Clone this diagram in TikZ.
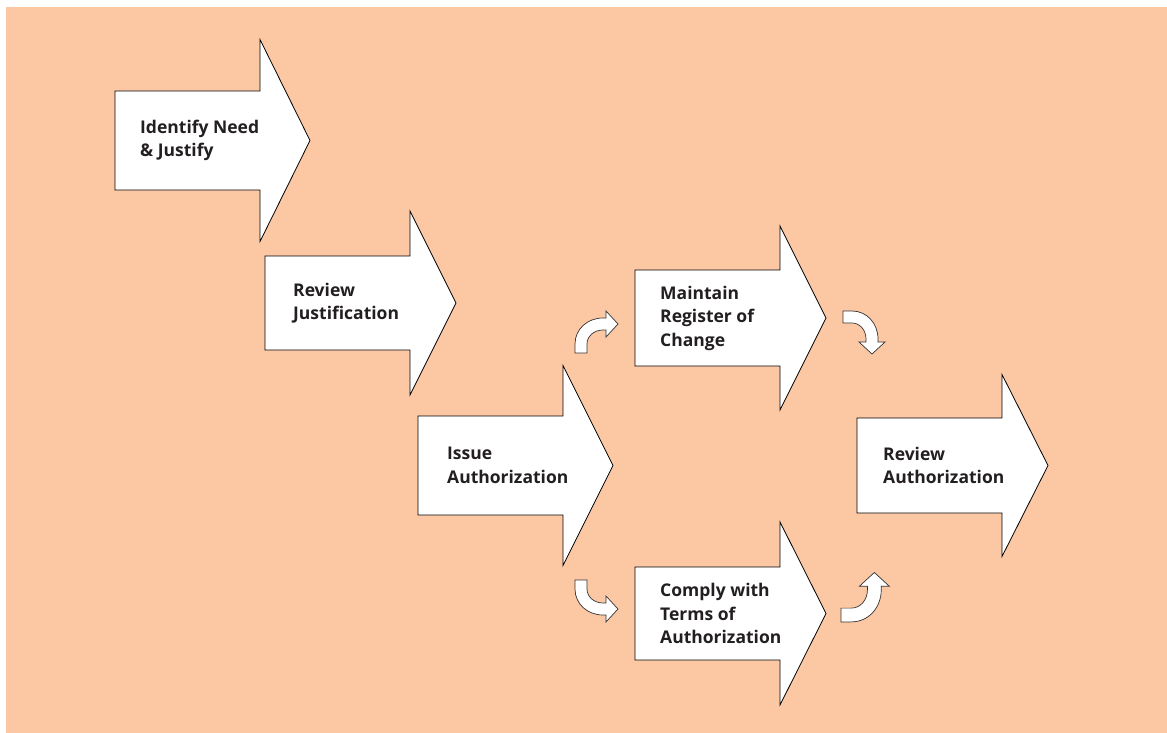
\documentclass[tikz,border=0pt]{standalone}
\usepackage{fontspec}
\setmainfont{Open Sans}
\definecolor{peach}{RGB}{252,199,163}
\definecolor{inkgray}{RGB}{35,31,32}
\tikzset{
  arrowbox/.style={draw=black, line width=0.8pt, fill=white, line join=miter},
  steptext/.style={anchor=west, align=left, inner sep=0pt, text=inkgray,
    font=\bfseries\fontsize{17.5}{23.5}\selectfont},
  turnarrow/.style={draw=black!80, line width=0.7pt, fill=white, line join=miter},
  uturn/.pic={
    \draw[turnarrow] (-6,0) -- (-6,-9)
      .. controls (-6,-24) and (6.5,-35) .. (22,-35)
      -- (25,-35) -- (25,-42) -- (37,-29) -- (25,-16) -- (25,-23) -- (22,-23)
      .. controls (13.2,-23) and (6,-17) .. (6,-9)
      -- (6,0) -- cycle;
  }
}
% #1 name, #2 left x, #3 centre y, #4 half body height, #5 half head height,
% #6 head length, #7 text indent, #8 label
\newcommand\procarrow[8]{%
  \draw[arrowbox] (#2,#3-#4) -- (#2+145,#3-#4) -- (#2+145,#3-#5)
    -- (#2+145+#6,#3) -- (#2+145,#3+#5) -- (#2+145,#3+#4)
    -- (#2,#3+#4) -- cycle;
  \node[steptext] (#1) at (#2+#7,#3) {#8};
}
\begin{document}
\begin{tikzpicture}[x=1pt,y=-1pt]
  \useasboundingbox (0,0) rectangle (1167,733);
  \fill[peach] (6,7) rectangle (1167,733);

  \procarrow{need}{115}{140.5}{49.5}{101}{50}{25}{Identify Need\\\& Justify}
  \procarrow{revjust}{265}{303}{47}{92}{46}{28}{Review\\Justification}
  \procarrow{issue}{418}{465.5}{49.5}{100}{50}{29}{Issue\\Authorization}
  \procarrow{register}{635}{318}{48}{92}{46}{25}{Maintain\\Register of\\Change}
  \procarrow{comply}{635}{613.5}{46.5}{91.5}{46}{25}{Comply with\\Terms of\\Authorization}
  \procarrow{revauth}{857}{465.5}{47.5}{91}{46}{26}{Review\\Authorization}

  % small turning arrows between the branches
  \pic at (581,353) {uturn};
  \pic[yscale=-1] at (581,580) {uturn};
  \pic[rotate=-90] at (843,317) {uturn};
  \pic[rotate=-90, xscale=-1, scale=1.15] at (841,615) {uturn};
\end{tikzpicture}
\end{document}
